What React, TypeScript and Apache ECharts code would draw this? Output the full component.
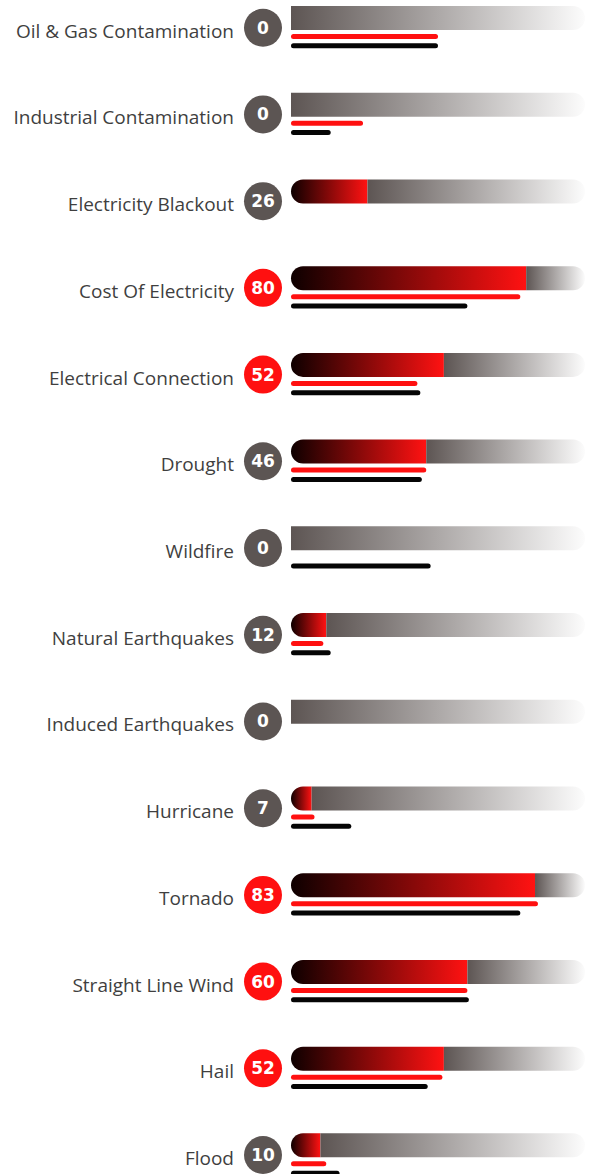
import React, { useEffect, useRef } from "react";
import * as echarts from "echarts";

const categories = [
  "Oil & Gas Contamination",
  "Industrial Contamination",
  "Electricity Blackout",
  "Cost Of Electricity",
  "Electrical Connection",
  "Drought",
  "Wildfire",
  "Natural Earthquakes",
  "Induced Earthquakes",
  "Hurricane",
  "Tornado",
  "Straight Line Wind",
  "Hail",
  "Flood",
];
const scores = [0, 0, 26, 80, 52, 46, 0, 12, 0, 7, 83, 60, 52, 10];
const redValues = [50, 24.5, 0, 78, 43, 46, 0, 11, 0, 8, 84, 60, 51.5, 12];
const blackValues = [50, 13.5, 0, 60, 44, 44.5, 47.5, 13.5, 0, 20.5, 78, 60.5, 46.5, 16.5];
const maxValue = 100;
const threshold = 50;

export default function App() {
  const ref = useRef<HTMLDivElement>(null);
  useEffect(() => {
    if (!ref.current) return;
    const chart = echarts.init(ref.current, null, { renderer: "svg" });
    const band = 86.72;
    const h = band * categories.length;
    const mkGrid = (top: number) => ({ left: 291, width: 294, top, height: h, containLabel: false });
    const tops = [14.64, 33.14, 42.44, 24.34, 27.34];
    const grids = tops.map(mkGrid);
    const xAxes = tops.map((_, i) => ({
      type: "value",
      gridIndex: i,
      min: 0,
      max: maxValue,
      show: false,
    }));
    const baseY = (i: number) => ({
      type: "category",
      gridIndex: i,
      data: categories,
      inverse: true,
      axisLine: { show: false },
      axisTick: { show: false },
      splitLine: { show: false },
      axisLabel: { show: false },
    });
    const yAxes: any[] = tops.map((_, i) => baseY(i));
    const badge = (bg: string) => ({
      backgroundColor: bg,
      borderRadius: 19,
      width: 38,
      height: 38,
      lineHeight: 38,
      align: "center",
      color: "#ffffff",
      fontWeight: "bold",
      fontSize: 17,
      fontFamily: "DejaVu Sans",
    });
    yAxes[3].axisLabel = {
      show: true,
      margin: 9,
      formatter: (_v: string, idx: number) => {
        const s = scores[idx];
        return s >= threshold ? `{r|${s}}` : `{g|${s}}`;
      },
      rich: { r: badge("#ff1010"), g: badge("#5c5553") },
    };
    yAxes[4].axisLabel = {
      show: true,
      margin: 57,
      fontSize: 19,
      fontFamily: "Open Sans",
      color: "#3f3f3f",
    };

    chart.setOption({
      animation: false,
      grid: grids,
      xAxis: xAxes,
      yAxis: yAxes,
      series: [
        {
          type: "bar",
          xAxisIndex: 0,
          yAxisIndex: 0,
          stack: "main",
          barWidth: 24,
          data: scores,
          itemStyle: {
            borderRadius: [12, 0, 0, 12],
            color: new echarts.graphic.LinearGradient(0, 0, 1, 0, [
              { offset: 0, color: "#0e0000" },
              { offset: 1, color: "#ff1212" },
            ]),
          },
        },
        {
          type: "bar",
          xAxisIndex: 0,
          yAxisIndex: 0,
          stack: "main",
          barWidth: 24,
          data: scores.map((s) => maxValue - s),
          itemStyle: {
            borderRadius: [0, 12, 12, 0],
            color: new echarts.graphic.LinearGradient(0, 0, 1, 0, [
              { offset: 0, color: "#5d5553" },
              { offset: 1, color: "#fcfcfc" },
            ]),
          },
        },
        {
          type: "bar",
          xAxisIndex: 1,
          yAxisIndex: 1,
          barWidth: 5,
          data: redValues,
          itemStyle: { color: "#ff1010", borderRadius: 2.5 },
        },
        {
          type: "bar",
          xAxisIndex: 2,
          yAxisIndex: 2,
          barWidth: 5,
          data: blackValues,
          itemStyle: { color: "#050505", borderRadius: 2.5 },
        },
      ],
    });
    return () => chart.dispose();
  }, []);
  return (
    <div
      ref={ref}
      style={{ position: "absolute", left: 0, top: -40, width: 591, height: 1300 }}
    />
  );
}
